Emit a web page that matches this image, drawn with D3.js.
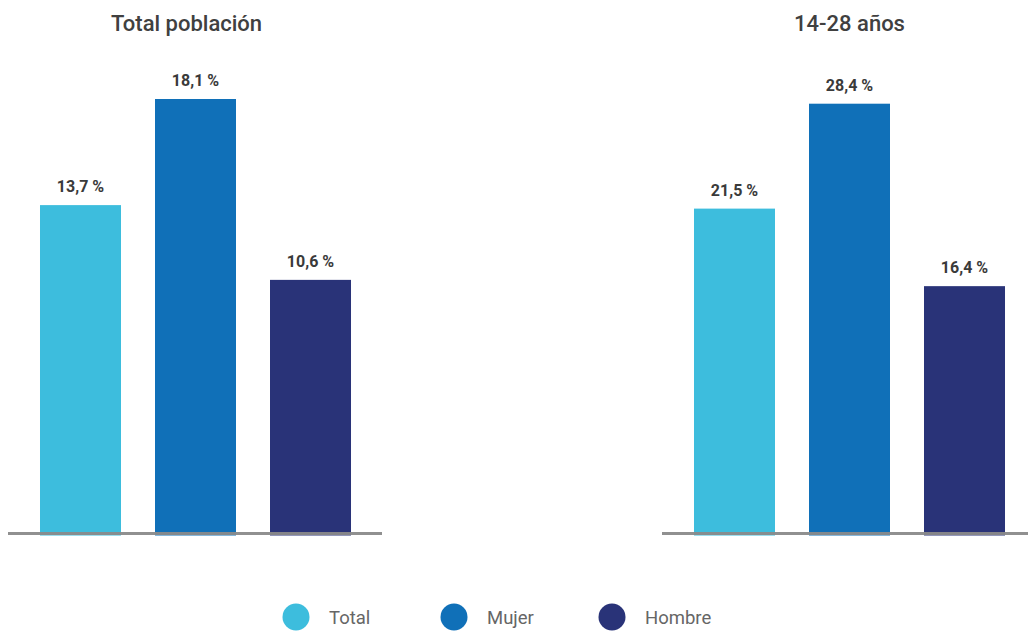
<!DOCTYPE html>
<html>
<head>
<meta charset="utf-8">
<script src="https://cdn.jsdelivr.net/npm/d3@7"></script>
<style>
  html, body { margin: 0; padding: 0; background: #ffffff; }
  svg { display: block; }
</style>
</head>
<body>
<svg id="chart" width="1028" height="632"></svg>
<script>
// Unemployment rate by sex: whole population vs. ages 14-28
const panels = ["Total población", "14-28 años"];
const categories = ["Total", "Mujer", "Hombre"];
const valuesTotal = [13.7, 18.1, 10.6];
const valuesYouth = [21.5, 28.4, 16.4];
const colors = ["#3dbddd", "#1070b8", "#293378"];

const seriesByPanel = [valuesTotal, valuesYouth];

const svg = d3.select("#chart");
const fmt = v => d3.format(".1f")(v).replace(".", ",") + " %";

const panelX0 = [23, 677];
const panelW = 345;
const baseY = 535.5;
const topY = [99, 103.7];

panels.forEach((title, i) => {
  const vals = seriesByPanel[i];
  const g = svg.append("g");

  const x = d3.scaleBand()
    .domain(categories)
    .range([panelX0[i], panelX0[i] + panelW])
    .paddingInner(0.2957)
    .paddingOuter(0.1478);

  const y = d3.scaleLinear()
    .domain([0, d3.max(vals)])
    .range([baseY, topY[i]]);

  // bars
  g.selectAll("rect.bar")
    .data(vals)
    .join("rect")
    .attr("class", "bar")
    .attr("x", (d, j) => x(categories[j]))
    .attr("width", x.bandwidth())
    .attr("y", d => y(d))
    .attr("height", d => y(0) - y(d))
    .attr("fill", (d, j) => colors[j]);

  // value labels
  g.selectAll("text.val")
    .data(vals)
    .join("text")
    .attr("class", "val")
    .attr("x", (d, j) => x(categories[j]) + x.bandwidth() / 2)
    .attr("y", d => y(d) - 13)
    .attr("text-anchor", "middle")
    .attr("font-family", "Roboto, sans-serif")
    .attr("font-weight", 700)
    .attr("font-size", 16)
    .attr("fill", "#3a3a3a")
    .text(d => fmt(d));

  // baseline
  const r = x.range();
  g.append("line")
    .attr("x1", r[0] - 15)
    .attr("x2", r[1] + 14)
    .attr("y1", y(0) - 2)
    .attr("y2", y(0) - 2)
    .attr("stroke", "#8a8a8a")
    .attr("stroke-width", 3)
    .attr("stroke-opacity", 0.95);

  // panel title
  g.append("text")
    .attr("x", (r[0] + r[1]) / 2 + (i === 0 ? -9 : 0))
    .attr("y", 31)
    .attr("text-anchor", "middle")
    .attr("font-family", "Roboto, sans-serif")
    .attr("font-weight", 500)
    .attr("font-size", 22)
    .attr("fill", "#404040")
    .text(title);
});

// legend
const legendX = d3.scalePoint()
  .domain(categories)
  .range([296, 612]);

const legend = svg.append("g")
  .selectAll("g")
  .data(categories)
  .join("g")
  .attr("transform", d => `translate(${legendX(d)},617)`);

legend.append("circle")
  .attr("r", 13.5)
  .attr("fill", (d, j) => colors[j]);

legend.append("text")
  .attr("x", 33)
  .attr("y", 7)
  .attr("font-family", "Roboto, sans-serif")
  .attr("font-weight", 400)
  .attr("font-size", 18.5)
  .attr("fill", "#666666")
  .text(d => d);
</script>
</body>
</html>
